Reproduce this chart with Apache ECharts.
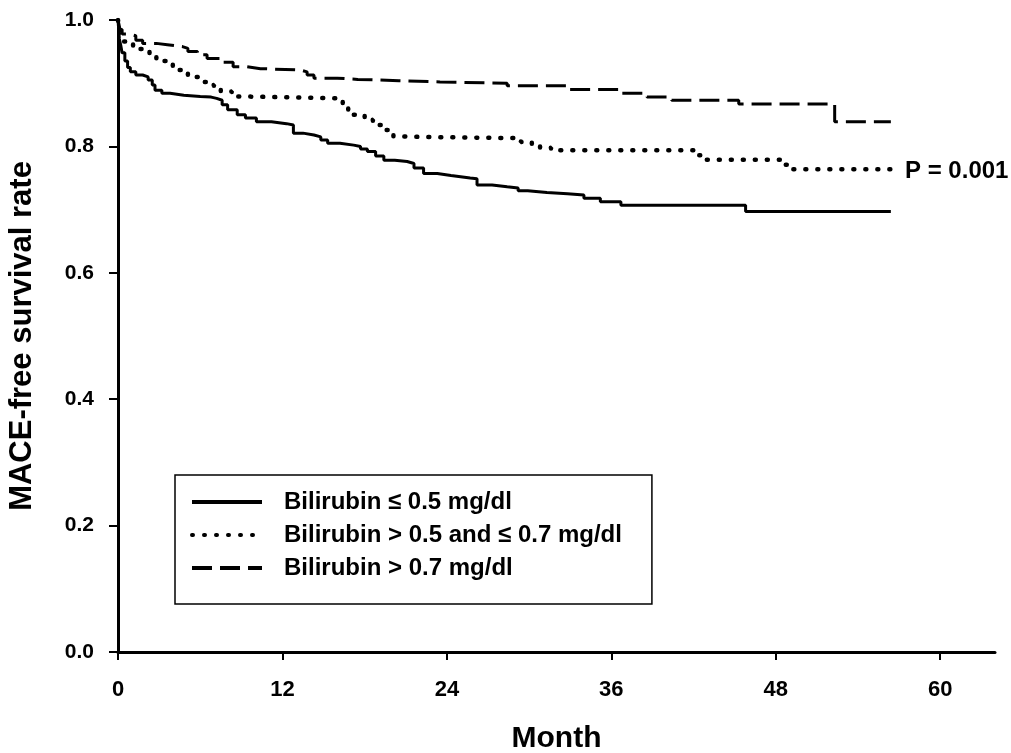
<!DOCTYPE html>
<html>
<head>
<meta charset="utf-8">
<script src="https://cdn.jsdelivr.net/npm/echarts@6/dist/echarts.min.js"></script>
<style>
  html, body { margin: 0; padding: 0; background: #fff; }
  #chart { width: 1011px; height: 753px; }
</style>
</head>
<body>
<div id="chart"></div>
<script>
// Kaplan-Meier curves, [month, survival]
const seriesNames = [
  'Bilirubin \u2264 0.5 mg/dl',
  'Bilirubin > 0.5 and \u2264 0.7 mg/dl',
  'Bilirubin > 0.7 mg/dl'
];

const lowBili = [
  [0, 1], [0.05, 0.985], [0.1, 0.97], [0.2, 0.96], [0.3, 0.948], [0.5, 0.935], [0.7, 0.925],
  [0.9, 0.918], [1.3, 0.913], [1.8, 0.91], [2.2, 0.905], [2.5, 0.897], [2.7, 0.889], [3.2, 0.884],
  [3.8, 0.881], [4.8, 0.879], [6.0, 0.878], [6.8, 0.876], [7.2, 0.873], [7.6, 0.866], [8.0, 0.858],
  [8.7, 0.85], [9.3, 0.845], [10.1, 0.839], [11.2, 0.836], [12.3, 0.834], [12.8, 0.821], [13.5, 0.818],
  [14.3, 0.815], [14.8, 0.81], [15.3, 0.805], [16.2, 0.802], [17.2, 0.8], [17.7, 0.796], [18.2, 0.792],
  [18.8, 0.785], [19.4, 0.778], [20.2, 0.776], [21.1, 0.773], [21.6, 0.766], [22.3, 0.757], [23.3, 0.754],
  [24.3, 0.752], [25.0, 0.75], [25.7, 0.749], [26.2, 0.739], [27.3, 0.736], [28.4, 0.734], [29.2, 0.73],
  [29.9, 0.727], [31.3, 0.725], [32.8, 0.723], [34.0, 0.718], [35.2, 0.7125], [36.7, 0.707],
  [45.8, 0.697], [56.4, 0.697]
];

const midBili = [
  [0, 1], [0.05, 0.99], [0.1, 0.98], [0.2, 0.972], [0.3, 0.966], [0.7, 0.962], [1.1, 0.958],
  [1.5, 0.954], [1.8, 0.95], [2.3, 0.945], [2.8, 0.939], [3.2, 0.935], [3.7, 0.931], [4.0, 0.926],
  [4.3, 0.921], [4.7, 0.915], [5.1, 0.91], [5.8, 0.908], [6.2, 0.902], [6.6, 0.897], [7.0, 0.892],
  [7.5, 0.887], [8.3, 0.879], [9.1, 0.876], [16.4, 0.866], [16.8, 0.858], [17.2, 0.85], [18.0, 0.842],
  [18.6, 0.834], [19.4, 0.826], [20.1, 0.816], [20.5, 0.815], [22.0, 0.813], [29.4, 0.807],
  [30.2, 0.802], [30.8, 0.798], [31.6, 0.794], [42.2, 0.786], [42.8, 0.779], [48.7, 0.771],
  [49.1, 0.764], [56.4, 0.764]
];

const highBili = [
  [0, 1], [0.05, 0.995], [0.15, 0.985], [0.3, 0.978], [0.8, 0.975], [1.3, 0.968], [1.8, 0.963],
  [2.8, 0.961], [3.6, 0.958], [4.7, 0.955], [5.1, 0.95], [5.8, 0.945], [6.5, 0.939], [7.5, 0.933],
  [8.4, 0.926], [9.4, 0.923], [10.4, 0.921], [13.3, 0.918], [13.8, 0.913], [14.3, 0.908], [16.0, 0.906],
  [17.5, 0.904], [20.5, 0.902], [23.5, 0.9], [28.4, 0.896], [32.8, 0.89], [36.7, 0.884], [38.6, 0.878],
  [40.4, 0.873], [45.3, 0.867], [52.3, 0.839], [56.4, 0.839]
];

const xTicks = [0, 12, 24, 36, 48, 60];
const pText = 'P = 0.001';

const chart = echarts.init(document.getElementById('chart'));

const FONT = 'Liberation Sans, Arial, sans-serif';
const axisFont = { color: '#000', fontWeight: 'bold', fontFamily: FONT };

function kmSeries(name, data, lineType, width, cap) {
  return {
    type: 'line',
    name: name,
    data: data,
    step: 'end',
    symbol: 'none',
    color: '#000',
    itemStyle: { color: '#000' },
    animation: false,
    lineStyle: { color: '#000', width: width, type: lineType, cap: cap }
  };
}

chart.setOption({
  animation: false,
  backgroundColor: '#fff',
  grid: { left: 118, right: 16, top: 20, bottom: 101, outerBoundsMode: 'none', containLabel: false },
  title: {
    text: pText,
    left: 905,
    top: 159,
    padding: 0,
    textStyle: { color: '#000', fontSize: 24, fontWeight: 'bold', fontFamily: FONT }
  },
  legend: {
    orient: 'vertical',
    left: 175,
    top: 475,
    padding: [15, 30, 24, 15],
    borderColor: '#000',
    borderWidth: 1.5,
    itemWidth: 70,
    itemHeight: 24,
    itemGap: 9,
    itemStyle: { opacity: 0 },
    lineStyle: { width: 4, inactiveWidth: 4 },
    textStyle: { color: '#000', fontSize: 24, fontWeight: 'bold', lineHeight: 24, padding: [0, 0, 0, 17], fontFamily: FONT },
    data: seriesNames
  },
  xAxis: {
    type: 'value',
    min: 0,
    max: 64,
    interval: 12,
    name: 'Month',
    nameLocation: 'middle',
    nameGap: 72,
    nameTextStyle: { ...axisFont, fontSize: 30 },
    axisLine: { show: true, onZero: false, lineStyle: { color: '#000', width: 3 } },
    axisTick: { show: true, inside: false, length: 8, lineStyle: { color: '#000', width: 2 }, customValues: xTicks },
    axisLabel: { ...axisFont, fontSize: 22, margin: 27, customValues: xTicks },
    splitLine: { show: false }
  },
  yAxis: {
    type: 'value',
    min: 0,
    max: 1,
    interval: 0.2,
    name: 'MACE-free survival rate',
    nameLocation: 'middle',
    nameGap: 80,
    nameRotate: 90,
    nameTextStyle: { ...axisFont, fontSize: 31 },
    axisLine: { show: true, lineStyle: { color: '#000', width: 3 } },
    axisTick: { show: true, inside: false, length: 9, lineStyle: { color: '#000', width: 2 } },
    axisLabel: { ...axisFont, fontSize: 21, margin: 24, formatter: v => v.toFixed(1) },
    splitLine: { show: false }
  },
  series: [
    kmSeries(seriesNames[0], lowBili, 'solid', 3, 'butt'),
    kmSeries(seriesNames[1], midBili, [1, 11], 4.5, 'round'),
    kmSeries(seriesNames[2], highBili, [20, 8], 3, 'butt')
  ]
});
</script>
</body>
</html>
